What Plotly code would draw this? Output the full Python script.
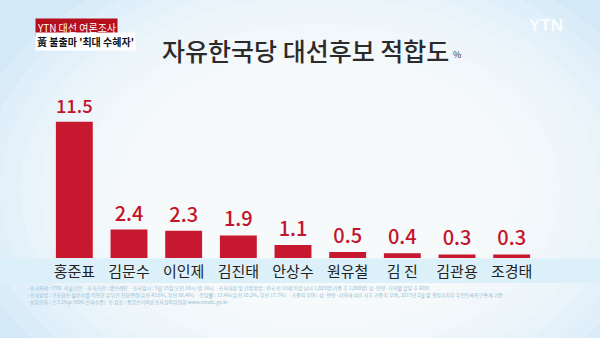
import plotly.graph_objects as go

candidates = ["홍준표", "김문수", "이인제", "김진태", "안상수", "원유철", "김 진", "김관용", "조경태"]
support = [11.5, 2.4, 2.3, 1.9, 1.1, 0.5, 0.4, 0.3, 0.3]
value_text = ["11.5", "2.4", "2.3", "1.9", "1.1", "0.5", "0.4", "0.3", "0.3"]

title_text = "자유한국당 대선후보 적합도"
unit_text = "%"
tag_text = "YTN 대선 여론조사"
sub_text = "黃 불출마 '최대 수혜자'"
notes = [
    "·조사의뢰 : YTN·서울신문  ·조사기관 : 엠브레인  ·조사일시 : 3월 15일 오전 10시~밤 10시  ·조사대상 및 선정방법 : 전국 만 19세 이상 남녀 1,029명(가중 후 1,000명) 성·연령·지역별 할당 후 RDD",
    "·조사방법 : 구조화된 설문지를 이용한 유무선 전화면접(유선 43.6%, 무선 56.4%)  ·응답률 : 13.4%(유선 10.2%, 무선 17.7%)  ·가중치 부여 : 성·연령·지역에 따른 사후 가중치 부여, 2017년 2월 말 행정자치부 주민등록인구통계 기준",
    "·표본오차 : ±3.1%p (95% 신뢰수준)  ※ 참조 : 중앙선거여론조사심의위원회 www.nesdc.go.kr",
]

W, H = 600, 338
L, R, T, B = 46.6, 60.6, 80, 80
PW = W - L - R
PH = H - T - B


def px(x):
    return (x - L) / PW


def py(y):
    return (H - B - y) / PH


FONT = "Noto Sans CJK KR"

fig = go.Figure()
fig.add_trace(go.Bar(
    x=candidates, y=support,
    text=value_text, textposition="outside",
    textfont=dict(family=FONT, size=20, color="#c3142c", weight=500),
    marker=dict(color="#c6182e", line=dict(width=0)),
    cliponaxis=False, hoverinfo="skip",
))

shapes = []
# background radial-ish glow
cx, cy = 320, 190
for k in range(10):
    rx = 360 - k * 20
    ry = 250 - k * 14
    shapes.append(dict(type="circle", xref="paper", yref="paper", layer="below",
                       x0=px(cx - rx), x1=px(cx + rx), y0=py(cy + ry), y1=py(cy - ry),
                       fillcolor="white", opacity=0.16, line=dict(width=0)))
# label band
shapes.append(dict(type="rect", xref="paper", yref="paper", layer="below",
                   x0=px(0), x1=px(600), y0=py(283), y1=py(258.5),
                   fillcolor="#dcf0fa", line=dict(width=0)))

annotations = [
    dict(text=title_text, xref="paper", yref="paper", x=px(306), y=py(50),
         showarrow=False, xanchor="center", yanchor="middle",
         font=dict(family=FONT, size=25, color="#2b2b2b", weight=500)),
    dict(text=unit_text, xref="paper", yref="paper", x=px(457), y=py(54),
         showarrow=False, xanchor="center", yanchor="middle",
         font=dict(family=FONT, size=9, color="#333")),
    dict(text=tag_text, xref="paper", yref="paper", x=px(35), y=py(28),
         showarrow=False, xanchor="left", yanchor="middle", bgcolor="#b50f1e",
         borderpad=1, font=dict(family=FONT, size=10, color="white")),
    dict(text=sub_text, xref="paper", yref="paper", x=px(35), y=py(42),
         showarrow=False, xanchor="left", yanchor="middle", bgcolor="white",
         borderpad=1, font=dict(family=FONT, size=10, color="#111", weight="bold")),
    dict(text="YTN", xref="paper", yref="paper", x=px(546), y=py(26),
         showarrow=False, xanchor="center", yanchor="middle",
         font=dict(family="Liberation Sans", size=17, color="rgba(255,255,255,0.85)", weight="bold")),
]
for i, line in enumerate(notes):
    annotations.append(dict(text=line, xref="paper", yref="paper", x=px(25), y=py(288 + 7 * i),
                            showarrow=False, xanchor="left", yanchor="middle",
                            font=dict(family=FONT, size=5, color="#94bcd4")))

fig.update_layout(
    width=W, height=H,
    margin=dict(l=L, r=R, t=T, b=B, pad=0),
    paper_bgcolor="#d3e9f7", plot_bgcolor="rgba(0,0,0,0)",
    bargap=0.325, showlegend=False,
    shapes=shapes, annotations=annotations,
    xaxis=dict(type="category", range=[-0.5, 8.5], showgrid=False, zeroline=False,
               showline=False, ticks="", ticklabelstandoff=3,
               tickfont=dict(family=FONT, size=15, color="#222")),
    yaxis=dict(range=[0, PH / 11.85], visible=False, fixedrange=True),
)

fig.write_html("out.html")
